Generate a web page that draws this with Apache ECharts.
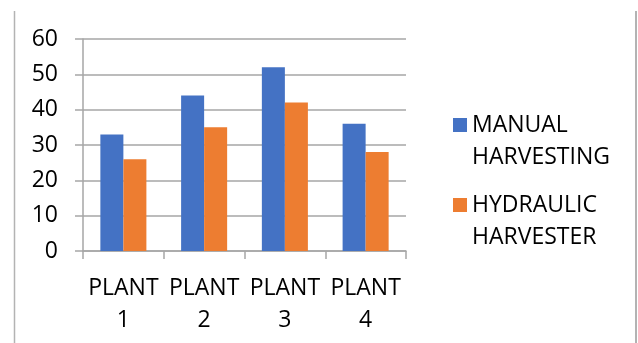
<!DOCTYPE html>
<html>
<head>
<meta charset="utf-8">
<style>
  html, body { margin: 0; padding: 0; background: #fff; }
  #chart { width: 638px; height: 343px; }
</style>
<script src="https://cdn.jsdelivr.net/npm/echarts@6/dist/echarts.min.js"></script>
</head>
<body>
<div id="chart"></div>
<script>
// Harvest comparison per plant
const categories = ['PLANT 1', 'PLANT 2', 'PLANT 3', 'PLANT 4'];
const manualHarvesting = [33, 44, 52, 36];
const hydraulicHarvester = [26, 35, 42, 28];
const seriesNames = ['MANUAL HARVESTING', 'HYDRAULIC HARVESTER'];
const yTicks = [0, 10, 20, 30, 40, 50, 60];

const FONT = '"Open Sans", sans-serif';
const TEXT = '#000';
const LINE = '#a6a6a6';

const chart = echarts.init(document.getElementById('chart'), null, { renderer: 'canvas' });

// The blank leading line keeps the swatch level with the first word.
function legendFor(name, top) {
  return {
    data: [name],
    orient: 'vertical',
    left: 448,
    top: top,
    itemWidth: 14,
    itemHeight: 14,
    icon: 'rect',
    selectedMode: false,
    formatter: (n) => ' \n' + n.replace(' ', '\n'),
    textStyle: {
      fontFamily: FONT,
      fontSize: 23,
      color: TEXT,
      lineHeight: 32,
      padding: [0, 0, 0, 0]
    }
  };
}

chart.setOption({
  animation: false,
  backgroundColor: '#fff',
  textStyle: { fontFamily: FONT },
  legend: [legendFor(seriesNames[0], 72), legendFor(seriesNames[1], 152)],
  grid: { left: 83, right: 232, top: 39, bottom: 92, containLabel: false },
  xAxis: {
    type: 'category',
    data: categories,
    boundaryGap: true,
    axisLine: { show: true, lineStyle: { color: LINE, width: 1.5 } },
    axisTick: { show: true, length: 8, alignWithLabel: false, lineStyle: { color: LINE, width: 1.5 } },
    axisLabel: {
      margin: 21,
      fontFamily: FONT,
      fontSize: 23,
      color: TEXT,
      lineHeight: 32,
      interval: 0,
      formatter: (v) => v.replace(' ', '\n')
    },
    splitLine: { show: false }
  },
  yAxis: {
    type: 'value',
    min: yTicks[0],
    max: yTicks[yTicks.length - 1],
    interval: yTicks[1] - yTicks[0],
    axisLine: { show: true, lineStyle: { color: LINE, width: 1.5 } },
    axisTick: { show: true, length: 8, lineStyle: { color: LINE, width: 1.5 } },
    axisLabel: { margin: 25, fontFamily: FONT, fontSize: 23, color: TEXT },
    splitLine: { show: true, lineStyle: { color: LINE, width: 1.5 } }
  },
  series: [
    {
      name: seriesNames[0],
      type: 'bar',
      data: manualHarvesting,
      barGap: '0%',
      barCategoryGap: '43%',
      itemStyle: { color: '#4472C4' }
    },
    {
      name: seriesNames[1],
      type: 'bar',
      data: hydraulicHarvester,
      barGap: '0%',
      barCategoryGap: '43%',
      itemStyle: { color: '#ED7D31' }
    }
  ],
  graphic: [
    { type: 'line', shape: { x1: 14.5, y1: 11, x2: 14.5, y2: 343 }, style: { stroke: '#b3b3b3', lineWidth: 1.5 }, silent: true },
    { type: 'line', shape: { x1: 636, y1: 11, x2: 636, y2: 343 }, style: { stroke: '#b3b3b3', lineWidth: 2 }, silent: true }
  ]
});
</script>
</body>
</html>
